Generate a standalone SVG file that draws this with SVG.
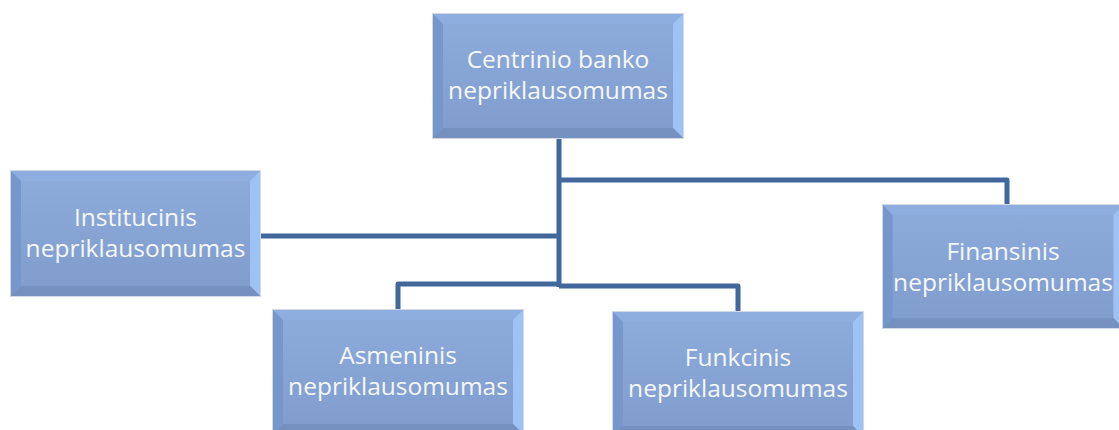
<svg xmlns="http://www.w3.org/2000/svg" width="1119" height="430" viewBox="0 0 1119 430">
<defs>
<linearGradient id="face" x1="0" y1="0" x2="0" y2="1">
<stop offset="0" stop-color="#8dabdb"/>
<stop offset="1" stop-color="#7f9ccc"/>
</linearGradient>
<symbol id="bevel" viewBox="0 0 250 124" preserveAspectRatio="none">
<rect x="0" y="0" width="250" height="124" fill="url(#face)"/>
<polygon points="0,0 250,0 240,10 10,10" fill="#8eaedf"/>
<polygon points="0,0 10,10 10,114 0,124" fill="#7697cb"/>
<polygon points="250,0 250,124 240,114 240,10" fill="#9ec2f3"/>
<polygon points="0,124 10,114 240,114 250,124" fill="#7491c0"/>
</symbol>
</defs>
<style>
.box{stroke:#d2d9e4;stroke-width:2;fill:none}
.lbl{font-family:"Open Sans","DejaVu Sans",sans-serif;font-size:24.5px;fill:#f5f8fc;text-anchor:middle}
.conn{fill:none;stroke:#41679b;stroke-width:5;stroke-linejoin:round}
</style>
<rect width="1119" height="430" fill="#ffffff"/>
<g id="connectors">
<path class="conn" d="M559 138 V287"/>
<path class="conn" d="M559 180 H1007 V205"/>
<path class="conn" d="M260 236 H559"/>
<path class="conn" d="M559 284 H398 V310"/>
<path class="conn" d="M559 286 H738 V312"/>
</g>
<g id="node-centrinio">
<rect class="box" x="433" y="14" width="250" height="124"/>
<use href="#bevel" x="433" y="14" width="250" height="124"/>
<text class="lbl" x="558" y="68">Centrinio banko</text>
<text class="lbl" x="558" y="99">nepriklausomumas</text>
</g>
<g id="node-institucinis">
<rect class="box" x="11" y="171" width="249" height="125"/>
<use href="#bevel" x="11" y="171" width="249" height="125"/>
<text class="lbl" x="135.5" y="226">Institucinis</text>
<text class="lbl" x="135.5" y="257">nepriklausomumas</text>
</g>
<g id="node-finansinis">
<rect class="box" x="883" y="205" width="240" height="123"/>
<use href="#bevel" x="883" y="205" width="240" height="123"/>
<text class="lbl" x="1003" y="260">Finansinis</text>
<text class="lbl" x="1003" y="291">nepriklausomumas</text>
</g>
<g id="node-asmeninis">
<rect class="box" x="273" y="310" width="250" height="124"/>
<use href="#bevel" x="273" y="310" width="250" height="124"/>
<text class="lbl" x="398" y="364">Asmeninis</text>
<text class="lbl" x="398" y="395">nepriklausomumas</text>
</g>
<g id="node-funkcinis">
<rect class="box" x="613" y="312" width="250" height="124"/>
<use href="#bevel" x="613" y="312" width="250" height="124"/>
<text class="lbl" x="738" y="366">Funkcinis</text>
<text class="lbl" x="738" y="397">nepriklausomumas</text>
</g>
</svg>
